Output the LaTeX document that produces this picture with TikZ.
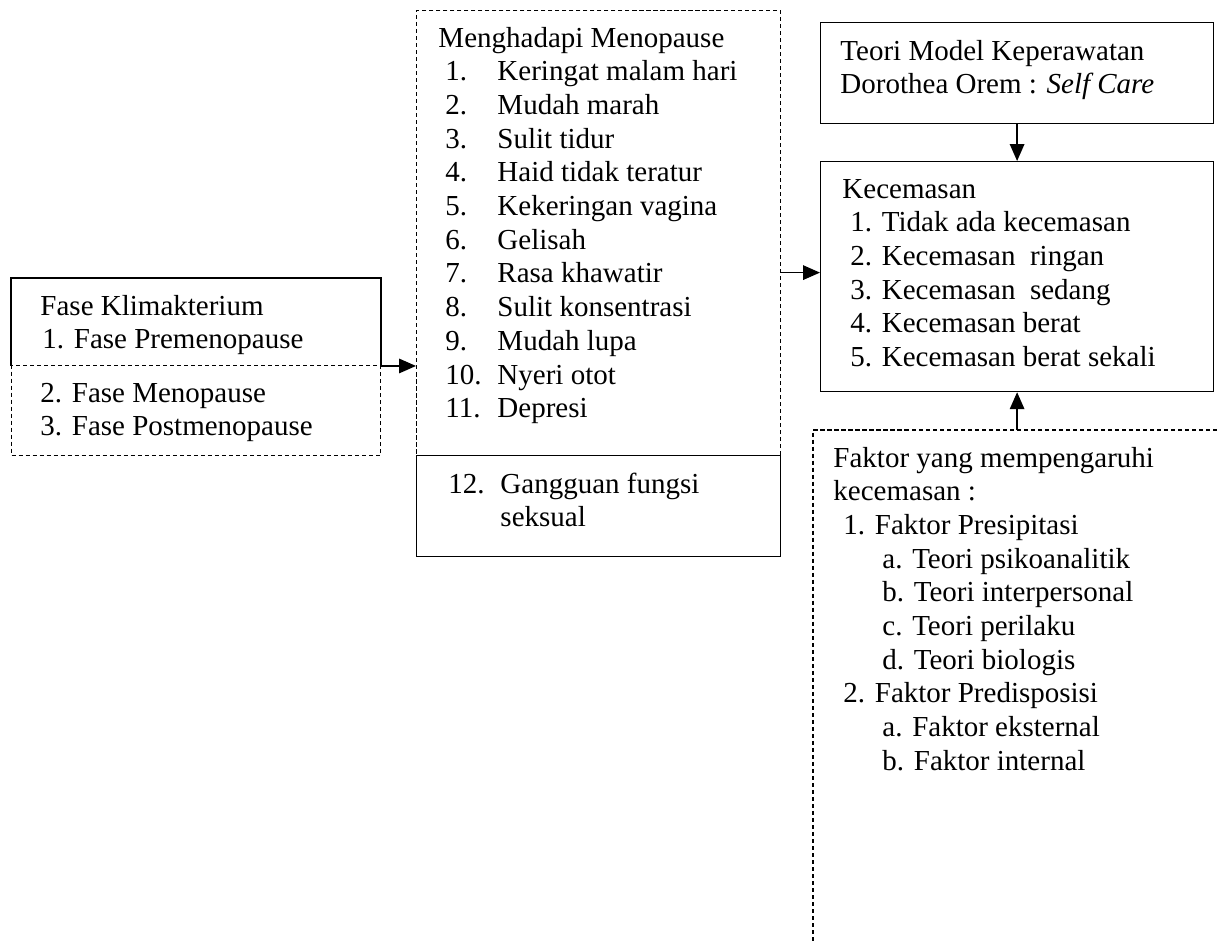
\documentclass[tikz,border=0pt]{standalone}
\usepackage{fontspec}
\setmainfont{Liberation Serif}
\usetikzlibrary{arrows.meta, positioning}

% one pixel of the layout
\newlength\pu
\setlength\pu{0.4138pt}
\newcommand{\itm}[2]{\makebox[52\pu][l]{#1}#2}
\newcommand{\rows}[1]{\begin{tabular}[t]{@{}l@{}}#1\end{tabular}}

\tikzset{
  box/.style={draw, line width=0.5pt, anchor=north west, inner sep=0pt},
  dbox/.style={box, dash pattern=on 1.7pt off 1.2pt},
  blank/.style={anchor=north west, inner sep=0pt},
  txt/.style={anchor=base west, inner sep=0pt, font=\fontsize{12}{13.95}\selectfont},
  arr/.style={-{Triangle[length=7pt,width=6pt]}, line width=0.6pt}
}

\begin{document}
\begin{tikzpicture}[x=1\pu, y=-1\pu]
    \useasboundingbox (0,0) rectangle (1217,943);

    % Fase Klimakterium
    \node[blank, minimum width=369\pu, minimum height=87\pu] (faseA) at (11,278) {};
    \node[dbox, minimum width=369\pu, minimum height=90\pu] (faseB) at (11,365) {};
    \draw[line width=0.5pt] (faseA.south west) -- (faseA.north west) -- (faseA.north east) -- (faseA.south east);
    \node[txt] (faseAT) at (40,315) {\rows{Fase Klimakterium\\ \hspace*{2\pu}1. Fase Premenopause}};
    \node[txt] (faseBT) at (40,402) {\rows{2. Fase Menopause\\3. Fase Postmenopause}};

    % gejala menopause
    \node[dbox, minimum width=364\pu, minimum height=445\pu] (gejala) at (416,10) {};
    \node[box, minimum width=364\pu, minimum height=101\pu] (seksual) at (416,455) {};
    \node[txt] (gejalaT) at (438,47) {\rows{Menghadapi Menopause\\
        \hspace*{7\pu}\itm{1.}{Keringat malam hari}\\
        \hspace*{7\pu}\itm{2.}{Mudah marah}\\
        \hspace*{7\pu}\itm{3.}{Sulit tidur}\\
        \hspace*{7\pu}\itm{4.}{Haid tidak teratur}\\
        \hspace*{7\pu}\itm{5.}{Kekeringan vagina}\\
        \hspace*{7\pu}\itm{6.}{Gelisah}\\
        \hspace*{7\pu}\itm{7.}{Rasa khawatir}\\
        \hspace*{7\pu}\itm{8.}{Sulit konsentrasi}\\
        \hspace*{7\pu}\itm{9.}{Mudah lupa}\\
        \hspace*{7\pu}\itm{10.}{Nyeri otot}\\
        \hspace*{7\pu}\itm{11.}{Depresi}}};
    \node[txt] (seksualT) at (448,493) {\rows{\itm{12.}{Gangguan fungsi}\\ \itm{}{seksual}}};

    % teori dan kecemasan
    \node[box, minimum width=393\pu, minimum height=101\pu] (teori) at (820,22) {};
    \node[txt] (teoriT) at (840,60) {\rows{Teori Model Keperawatan\\Dorothea Orem : \textit{Self Care}}};
    \node[box, minimum width=393\pu, minimum height=230\pu] (cemas) at (820,161) {};
    \node[txt] (cemasT) at (842,198) {\rows{Kecemasan\\
        \hspace*{8\pu}1. Tidak ada kecemasan\\
        \hspace*{8\pu}2. Kecemasan \ ringan\\
        \hspace*{8\pu}3. Kecemasan \ sedang\\
        \hspace*{8\pu}4. Kecemasan berat\\
        \hspace*{8\pu}5. Kecemasan berat sekali}};

    % faktor
    \node[blank, minimum width=410\pu, minimum height=520\pu] (faktor) at (813,430) {};
    \draw[line width=0.5pt, dash pattern=on 1.7pt off 1.2pt] (faktor.north east) -- (faktor.north west) -- (faktor.south west);
    \node[txt] (faktorT) at (833,467) {\rows{Faktor yang mempengaruhi\\kecemasan :\\
        \hspace*{10\pu}1. Faktor Presipitasi\\
        \hspace*{49\pu}a. Teori psikoanalitik\\
        \hspace*{49\pu}b. Teori interpersonal\\
        \hspace*{49\pu}c. Teori perilaku\\
        \hspace*{49\pu}d. Teori biologis\\
        \hspace*{10\pu}2. Faktor Predisposisi\\
        \hspace*{49\pu}a. Faktor eksternal\\
        \hspace*{49\pu}b. Faktor internal}};

    \draw[arr] (faseA.south east) -- (faseA.south east -| gejala.west);
    \draw[arr] ([yshift=4\pu]cemas.west -| gejala.east) -- ([yshift=4\pu]cemas.west);
    \draw[arr] (teori) -- (cemas);
    \draw[arr] (faktor.north -| cemas.south) -- (cemas.south);
\end{tikzpicture}
\end{document}
